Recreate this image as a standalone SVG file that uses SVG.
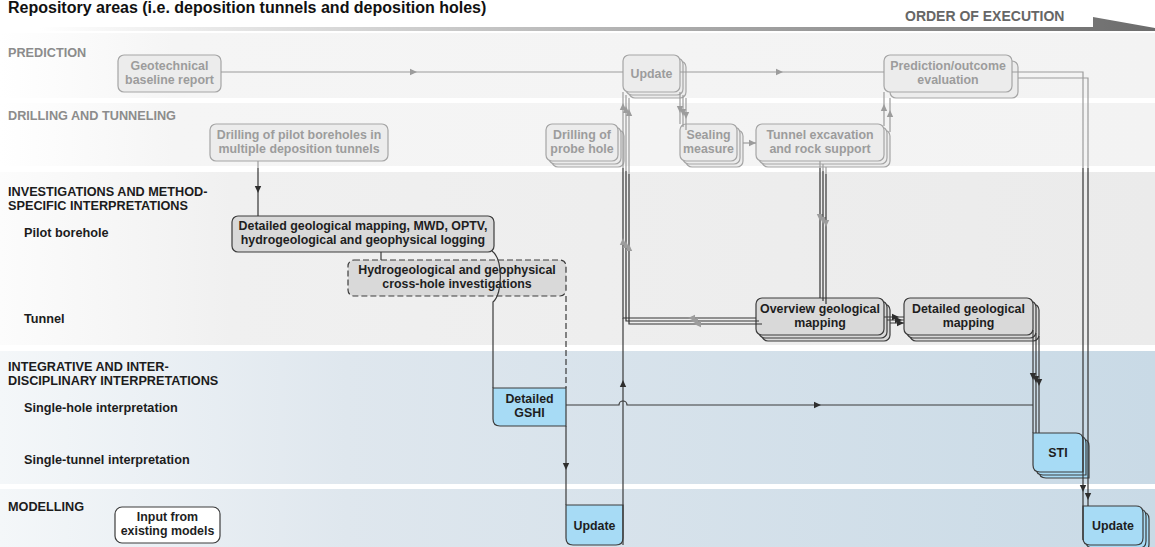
<svg xmlns="http://www.w3.org/2000/svg" width="1155" height="547" viewBox="0 0 1155 547">
  <style>
    text { font-family: 'Liberation Sans', Arial, sans-serif; font-weight: bold; font-size: 12.4px; }
    .title { font-size: 16px; fill: #111; }
    .order { font-size: 14px; fill: #666; }
    .row-g { fill: #8c8c8c; font-size: 12.7px; }
    .row-d { fill: #1c1c1c; font-size: 12.7px; }
    .node text { text-anchor: middle; }
    .grey .bx { fill: #ececec; stroke: #a5a5a5; stroke-width: 1.2; }
    .grey text { fill: #9c9c9c; }
    .dark .bx { fill: #d9d9d9; stroke: #3c3c3c; stroke-width: 1.2; }
    .dark text { fill: #1e1e1e; }
    .blue .bx { fill: #a7dbf5; stroke: #3c3c3c; stroke-width: 1.2; }
    .blue text { fill: #1e1e1e; }
    .white .bx { fill: #ffffff; stroke: #3c3c3c; stroke-width: 1.2; }
    .white text { fill: #1e1e1e; }
    .dash { stroke-dasharray: 6 3; }
    .c { fill: none; stroke-width: 1.2; }
    .cg { stroke: #9c9c9c; }
    .cd { stroke: #3a3a3a; }
    .ci { stroke: url(#ink); }
    .ag { fill: #9c9c9c; }
    .ad { fill: #2e2e2e; }
    .ai { fill: url(#ink); }
  </style>
  <defs>
    <linearGradient id="bar" gradientUnits="userSpaceOnUse" x1="40" y1="0" x2="1155" y2="0">
      <stop offset="0" stop-color="#ffffff"/>
      <stop offset="0.45" stop-color="#bdbdbd"/>
      <stop offset="1" stop-color="#6c6c6c"/>
    </linearGradient>
    <linearGradient id="bandLight" x1="0" y1="0" x2="1" y2="0">
      <stop offset="0" stop-color="#ffffff"/>
      <stop offset="0.15" stop-color="#f5f5f5"/>
      <stop offset="1" stop-color="#f3f3f3"/>
    </linearGradient>
    <linearGradient id="bandMid" x1="0" y1="0" x2="1" y2="0">
      <stop offset="0" stop-color="#fcfcfc"/>
      <stop offset="0.2" stop-color="#f0f0f0"/>
      <stop offset="1" stop-color="#ebebeb"/>
    </linearGradient>
    <linearGradient id="bandBlue" x1="0" y1="0" x2="1" y2="0">
      <stop offset="0" stop-color="#f4f7f9"/>
      <stop offset="0.3" stop-color="#dfe7ee"/>
      <stop offset="1" stop-color="#c9dae6"/>
    </linearGradient>
    <!-- lines are grey in the planning rows and dark from the investigation rows down -->
    <linearGradient id="ink" gradientUnits="userSpaceOnUse" x1="0" y1="0" x2="0" y2="547">
      <stop offset="0.307" stop-color="#9c9c9c"/>
      <stop offset="0.307" stop-color="#333333"/>
    </linearGradient>
    <path id="ah" d="M0,0 L-7,-3.2 L-7,3.2 Z"/>
  </defs>

  <!-- background rows -->
  <rect x="0" y="0" width="1155" height="547" fill="#ffffff"/>
  <rect x="0" y="33" width="1155" height="65" fill="url(#bandLight)"/>
  <rect x="0" y="103" width="1155" height="63" fill="url(#bandLight)"/>
  <rect x="0" y="172" width="1155" height="173" fill="url(#bandMid)"/>
  <rect x="0" y="351" width="1155" height="133" fill="url(#bandBlue)"/>
  <rect x="0" y="489" width="1155" height="58" fill="url(#bandBlue)"/>

  <!-- heading and time arrow -->
  <text class="title" x="8" y="13">Repository areas (i.e. deposition tunnels and deposition holes)</text>
  <text class="order" x="905" y="21">ORDER OF EXECUTION</text>
  <polygon points="40,27 1093,27 1093,17 1155,28 1155,31 40,31" fill="url(#bar)"/>

  <!-- row labels -->
  <g id="row-labels">
    <text class="row-g" x="8" y="57">PREDICTION</text>
    <text class="row-g" x="8" y="120">DRILLING AND TUNNELING</text>
    <text class="row-d" x="8" y="196">INVESTIGATIONS AND METHOD-</text>
    <text class="row-d" x="8" y="210">SPECIFIC INTERPRETATIONS</text>
    <text class="row-d" x="24" y="237">Pilot borehole</text>
    <text class="row-d" x="24" y="323">Tunnel</text>
    <text class="row-d" x="8" y="371">INTEGRATIVE AND INTER-</text>
    <text class="row-d" x="8" y="385">DISCIPLINARY INTERPRETATIONS</text>
    <text class="row-d" x="24" y="412">Single-hole interpretation</text>
    <text class="row-d" x="24" y="464">Single-tunnel interpretation</text>
    <text class="row-d" x="8" y="511">MODELLING</text>
  </g>

  <!-- prediction row -->
  <g id="n-baseline-report" class="node grey">
    <rect class="bx" x="118" y="55" width="103" height="37" rx="6"/>
    <text x="169.5" y="70">Geotechnical</text>
    <text x="169.5" y="84">baseline report</text>
  </g>
  <g id="n-update-prediction" class="node grey">
    <rect class="bx" x="629" y="61" width="57" height="37" rx="6"/>
    <rect class="bx" x="626" y="58" width="57" height="37" rx="6"/>
    <rect class="bx" x="623" y="55" width="57" height="37" rx="6"/>
    <text x="651.5" y="78">Update</text>
  </g>
  <g id="n-outcome-evaluation" class="node grey">
    <rect class="bx" x="890" y="61" width="128" height="37" rx="6"/>
    <rect class="bx" x="884" y="55" width="128" height="37" rx="6"/>
    <text x="948" y="70">Prediction/outcome</text>
    <text x="948" y="84">evaluation</text>
  </g>

  <!-- drilling and tunneling row -->
  <g id="n-pilot-drilling" class="node grey">
    <rect class="bx" x="210" y="124" width="178" height="37" rx="6"/>
    <text x="299" y="139">Drilling of pilot boreholes in</text>
    <text x="299" y="153">multiple deposition tunnels</text>
  </g>
  <g id="n-probe-hole" class="node grey">
    <rect class="bx" x="552" y="130" width="72" height="37" rx="6"/>
    <rect class="bx" x="549" y="127" width="72" height="37" rx="6"/>
    <rect class="bx" x="546" y="124" width="72" height="37" rx="6"/>
    <text x="582" y="139">Drilling of</text>
    <text x="582" y="153">probe hole</text>
  </g>
  <g id="n-sealing" class="node grey">
    <rect class="bx" x="686" y="130" width="57" height="37" rx="6"/>
    <rect class="bx" x="683" y="127" width="57" height="37" rx="6"/>
    <rect class="bx" x="680" y="124" width="57" height="37" rx="6"/>
    <text x="708.5" y="139">Sealing</text>
    <text x="708.5" y="153">measure</text>
  </g>
  <g id="n-tunnel-excavation" class="node grey">
    <rect class="bx" x="762" y="130" width="128" height="37" rx="6"/>
    <rect class="bx" x="759" y="127" width="128" height="37" rx="6"/>
    <rect class="bx" x="756" y="124" width="128" height="37" rx="6"/>
    <text x="820" y="139">Tunnel excavation</text>
    <text x="820" y="153">and rock support</text>
  </g>

  <!-- investigations row -->
  <g id="n-pilot-logging" class="node dark">
    <rect class="bx" x="232" y="216" width="262" height="36" rx="6"/>
    <text x="363" y="230">Detailed geological mapping, MWD, OPTV,</text>
    <text x="363" y="244">hydrogeological and geophysical logging</text>
  </g>
  <g id="n-cross-hole" class="node dark">
    <rect class="bx dash" x="348" y="260" width="218" height="36" rx="6"/>
    <text x="457" y="274">Hydrogeological and geophysical</text>
    <text x="457" y="288">cross-hole investigations</text>
  </g>
  <g id="n-overview-mapping" class="node dark">
    <rect class="bx" x="762" y="304" width="128" height="37" rx="6"/>
    <rect class="bx" x="759" y="301" width="128" height="37" rx="6"/>
    <rect class="bx" x="756" y="298" width="128" height="37" rx="6"/>
    <text x="820" y="313">Overview geological</text>
    <text x="820" y="327">mapping</text>
  </g>
  <g id="n-detailed-mapping" class="node dark">
    <rect class="bx" x="910" y="304" width="129" height="37" rx="6"/>
    <rect class="bx" x="907" y="301" width="129" height="37" rx="6"/>
    <rect class="bx" x="904" y="298" width="129" height="37" rx="6"/>
    <text x="968.5" y="313">Detailed geological</text>
    <text x="968.5" y="327">mapping</text>
  </g>

  <!-- integrative interpretations -->
  <g id="n-gshi" class="node blue">
    <path class="bx" d="M493,388 H566 V426 H500 Q493,426 493,419 Z"/>
    <text x="529.5" y="403">Detailed</text>
    <text x="529.5" y="417">GSHI</text>
  </g>
  <g id="n-sti" class="node blue">
    <path class="bx" transform="translate(6,6)" d="M1033,433 H1076 Q1083,433 1083,440 V472 H1040 Q1033,472 1033,465 Z"/>
    <path class="bx" transform="translate(3,3)" d="M1033,433 H1076 Q1083,433 1083,440 V472 H1040 Q1033,472 1033,465 Z"/>
    <path class="bx" d="M1033,433 H1076 Q1083,433 1083,440 V472 H1040 Q1033,472 1033,465 Z"/>
    <text x="1058" y="457">STI</text>
  </g>

  <!-- modelling -->
  <g id="n-existing-models" class="node white">
    <rect class="bx" x="115" y="507" width="105" height="36" rx="7"/>
    <text x="167.5" y="521">Input from</text>
    <text x="167.5" y="535">existing models</text>
  </g>
  <g id="n-model-update-hole" class="node blue">
    <path class="bx" d="M566,505 H623 V538 Q623,545 616,545 H573 Q566,545 566,538 Z"/>
    <text x="594.5" y="530">Update</text>
  </g>
  <g id="n-model-update-tunnel" class="node blue">
    <path class="bx" transform="translate(6,6)" d="M1083,506 H1136 Q1143,506 1143,513 V538 Q1143,545 1136,545 H1090 Q1083,545 1083,538 Z"/>
    <path class="bx" transform="translate(3,3)" d="M1083,506 H1136 Q1143,506 1143,513 V538 Q1143,545 1136,545 H1090 Q1083,545 1083,538 Z"/>
    <path class="bx" d="M1083,506 H1136 Q1143,506 1143,513 V538 Q1143,545 1136,545 H1090 Q1083,545 1083,538 Z"/>
    <text x="1113" y="530">Update</text>
  </g>

  <!-- connectors -->
  <g id="connectors">
    <!-- prediction chain -->
    <path class="c cg" d="M221,72 H623"/>
    <use href="#ah" class="ag" transform="translate(417,72)"/>
    <path class="c cg" d="M680,72 H884"/>
    <use href="#ah" class="ag" transform="translate(783,72)"/>

    <!-- evaluation feeds the tunnel model update -->
    <path class="c ci" d="M1012,72 H1083 V540"/>
    <path class="c ci" d="M1018,78 H1088 V506"/>
    <use href="#ah" class="ad" transform="translate(1083,492) rotate(90)"/>
    <use href="#ah" class="ad" transform="translate(1088,500) rotate(90)"/>

    <!-- tunnel excavation reports back to evaluation -->
    <path class="c cg" d="M884,126 V92"/>
    <path class="c cg" d="M890,132 V98"/>
    <use href="#ah" class="ag" transform="translate(884,104) rotate(-90)"/>
    <use href="#ah" class="ag" transform="translate(890,110) rotate(-90)"/>

    <!-- update triggers sealing measures -->
    <g id="c-update-sealing">
      <path class="c cg" d="M680,92 V124"/>
      <use href="#ah" class="ag" transform="translate(680,113) rotate(90)"/>
    </g>
    <use href="#c-update-sealing" transform="translate(3,3)"/>
    <use href="#c-update-sealing" transform="translate(6,6)"/>

    <!-- sealing to excavation -->
    <path class="c cg" d="M743,143 H756"/>
    <use href="#ah" class="ag" transform="translate(756,143)"/>

    <!-- tunnel mapping loop back to the prediction update -->
    <g id="c-mapping-loop">
      <path class="c ci" d="M756,318 H623 V92"/>
      <use href="#ah" class="ai" transform="translate(688,318) rotate(180)"/>
      <use href="#ah" class="ai" transform="translate(623,238) rotate(-90)"/>
      <use href="#ah" class="ai" transform="translate(623,103) rotate(-90)"/>
    </g>
    <use href="#c-mapping-loop" transform="translate(3,3)"/>
    <use href="#c-mapping-loop" transform="translate(6,6)"/>

    <!-- excavation to overview mapping -->
    <g id="c-excavation-mapping">
      <path class="c ci" d="M820,161 V298"/>
      <use href="#ah" class="ai" transform="translate(820,221) rotate(90)"/>
    </g>
    <use href="#c-excavation-mapping" transform="translate(3,3)"/>
    <use href="#c-excavation-mapping" transform="translate(6,6)"/>

    <!-- overview to detailed tunnel mapping -->
    <path class="c cd" d="M884,317 H904 M887,320 H904 M890,323 H904"/>
    <use href="#ah" class="ad" transform="translate(899,317)"/>
    <use href="#ah" class="ad" transform="translate(902,320)"/>
    <use href="#ah" class="ad" transform="translate(904,323)"/>

    <!-- detailed tunnel mapping to STI -->
    <path class="c cd" d="M1033,330 V433 M1036,333 V433 M1039,336 V433"/>
    <use href="#ah" class="ad" transform="translate(1033,380) rotate(90)"/>
    <use href="#ah" class="ad" transform="translate(1036,383) rotate(90)"/>
    <use href="#ah" class="ad" transform="translate(1039,386) rotate(90)"/>

    <!-- pilot borehole chain -->
    <path class="c ci" d="M258,161 V216"/>
    <use href="#ah" class="ad" transform="translate(258,193) rotate(90)"/>
    <path class="c cd" d="M381,252 V260"/>
    <path class="c cd" d="M492,251 C503,259 503,294 493,302 V388"/>
    <path class="c cd dash" d="M566,296 V388"/>

    <!-- GSHI to model update and STI -->
    <path class="c cd" d="M566,426 V505"/>
    <use href="#ah" class="ad" transform="translate(566,470) rotate(90)"/>
    <path class="c cd" d="M566,405 H619 A4,4 0 0 1 627,405 H1033"/>
    <use href="#ah" class="ad" transform="translate(821,405)"/>

    <!-- model update feeds back up the loop -->
    <path class="c cd" d="M623,545 V318"/>
    <use href="#ah" class="ad" transform="translate(623,380) rotate(-90)"/>
  </g>
</svg>
